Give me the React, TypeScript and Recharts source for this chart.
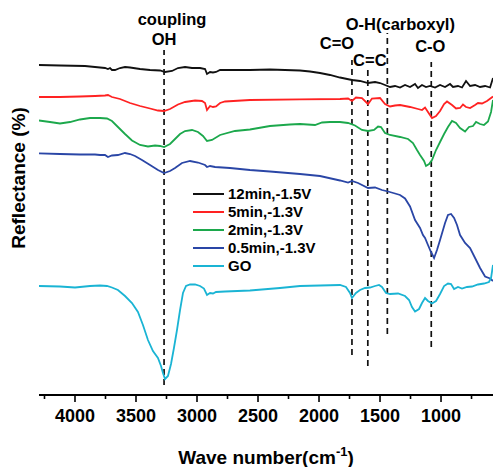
import React from 'react';
import { LineChart, Line, XAxis, YAxis, ReferenceLine, Legend } from 'recharts';

// ---------- data ----------
const waveTicks = [4250, 4000, 3750, 3500, 3250, 3000, 2750, 2500, 2250, 2000, 1750, 1500, 1250, 1000, 750];
const majorTicks = [4000, 3500, 3000, 2500, 2000, 1500, 1000];

const seriesNames = ['12min,-1.5V', '5min,-1.3V', '2min,-1.3V', '0.5min,-1.3V', 'GO'];
const seriesColors = ['#111111', '#ff2222', '#1ca84c', '#2a46a6', '#1ab4d4'];

// [wave number (cm-1), reflectance (a.u., offset)]
const black12min: [number, number][] = [
  [4295, 330], [4123, 329.5], [3918, 329], [3836, 328], [3795, 327.5], [3754, 327], [3730, 326], [3713, 327],
  [3697, 325], [3672, 325], [3631, 327], [3590, 328], [3549, 327.5], [3467, 326], [3385, 325], [3303, 324.5],
  [3262, 323], [3205, 324], [3156, 327], [3098, 328], [3041, 327], [2975, 327], [2934, 326], [2918, 321],
  [2893, 323], [2869, 322.5], [2844, 323], [2811, 325], [2566, 325], [2402, 325.5], [2156, 324.5], [2074, 323.5],
  [1992, 322], [1910, 320], [1828, 317.5], [1730, 315], [1664, 314], [1598, 312], [1541, 313], [1500, 312],
  [1459, 310], [1418, 308], [1377, 309], [1336, 307.5], [1295, 310], [1254, 308], [1213, 311], [1189, 307],
  [1156, 310], [1123, 308], [1090, 309], [1049, 307.5], [1008, 310], [967, 308], [926, 311], [902, 308],
  [861, 309], [828, 307.5], [795, 314], [762, 309], [721, 310], [680, 308], [639, 309], [598, 307.5], [574, 317],
];

const red5min: [number, number][] = [
  [4295, 298], [4123, 298], [3959, 298.5], [3836, 299], [3754, 299.5], [3730, 300], [3697, 298], [3631, 296],
  [3549, 292], [3467, 289], [3385, 286.5], [3320, 284.5], [3270, 284], [3221, 286], [3156, 290.5], [3098, 293],
  [3016, 294.5], [2959, 294], [2934, 292], [2918, 285], [2893, 289], [2869, 288], [2844, 288.5], [2811, 292],
  [2770, 293.5], [2566, 295], [2156, 295.7], [1828, 296], [1762, 296.5], [1730, 294], [1697, 297.5], [1648, 297],
  [1598, 291], [1566, 296.5], [1500, 297], [1459, 291], [1418, 288.5], [1377, 289.5], [1336, 290], [1254, 288],
  [1189, 286], [1156, 285], [1131, 287.5], [1107, 283], [1074, 277], [1041, 279], [1008, 284], [975, 291],
  [951, 293.5], [910, 290], [877, 286.5], [844, 287], [820, 290.5], [795, 288], [762, 287], [721, 290],
  [697, 292], [664, 291.5], [623, 294], [574, 298.5],
];

const green2min: [number, number][] = [
  [4295, 274.5], [4205, 273], [4123, 271.5], [4041, 273], [3959, 275.5], [3877, 277], [3795, 277], [3738, 276.5],
  [3697, 274], [3648, 268], [3590, 261], [3533, 254.5], [3467, 250], [3402, 248.5], [3344, 249.5], [3303, 249],
  [3270, 248], [3221, 251], [3180, 256], [3139, 261], [3098, 264], [3041, 265], [2992, 263], [2951, 259],
  [2918, 254], [2877, 255], [2811, 260], [2689, 264], [2566, 265.5], [2402, 269], [2238, 270.5], [2156, 271],
  [2033, 270], [1975, 272.5], [1910, 273], [1828, 273], [1762, 272], [1705, 269.5], [1648, 265], [1598, 264],
  [1549, 265], [1516, 268.5], [1492, 268], [1459, 262], [1418, 260], [1336, 258], [1270, 256], [1230, 252],
  [1197, 245], [1172, 240], [1139, 234], [1123, 229], [1098, 231], [1074, 235], [1041, 245], [1008, 253],
  [975, 261], [943, 268], [910, 274], [877, 272], [844, 267], [803, 263.5], [771, 268], [738, 269],
  [713, 273], [680, 271], [648, 270], [615, 273.5], [590, 283], [574, 295],
];

const blue05min: [number, number][] = [
  [4295, 241.7], [4123, 241], [3959, 240.5], [3836, 240.5], [3795, 240], [3754, 240], [3730, 238], [3697, 239.5],
  [3648, 240], [3590, 242], [3549, 241], [3508, 239], [3451, 235], [3385, 230], [3320, 225], [3270, 222],
  [3221, 224], [3180, 227], [3123, 232], [3057, 234], [2992, 232.5], [2934, 230], [2918, 228], [2893, 229],
  [2852, 228], [2730, 227], [2566, 225], [2402, 223.5], [2156, 221], [1992, 219], [1828, 214.5], [1762, 212.5],
  [1730, 214], [1680, 212], [1598, 207], [1541, 207.5], [1484, 205], [1434, 203.5], [1377, 201.5], [1336, 200],
  [1295, 196.5], [1254, 188.5], [1213, 175], [1172, 167], [1148, 160], [1131, 157], [1107, 150], [1082, 143],
  [1057, 137], [1033, 145], [1008, 155], [967, 172], [943, 180], [918, 181], [893, 177], [869, 170],
  [844, 160], [803, 152], [762, 147], [721, 137], [680, 127], [639, 118.5], [598, 116.5], [574, 114],
];

const goRef: [number, number][] = [
  [4295, 109], [4123, 108.5], [4000, 107.5], [3877, 109], [3795, 109.5], [3738, 109], [3697, 107.5], [3648, 105],
  [3590, 99], [3533, 92], [3484, 83], [3443, 70], [3402, 55], [3361, 44], [3320, 37], [3295, 29],
  [3279, 22], [3262, 16], [3238, 19], [3213, 31], [3189, 47], [3164, 65], [3139, 85], [3115, 102],
  [3090, 109], [3057, 110.5], [3016, 110.5], [2975, 109], [2943, 106.5], [2918, 100], [2893, 102], [2869, 101.5],
  [2844, 103], [2770, 103.5], [2566, 104.5], [2320, 107], [2156, 109], [1828, 110], [1779, 108], [1746, 102],
  [1730, 97], [1697, 102], [1664, 105], [1623, 107], [1582, 107.5], [1541, 109], [1508, 110], [1484, 108],
  [1451, 102], [1418, 101], [1352, 101.5], [1295, 99], [1262, 95], [1238, 88], [1213, 83.5], [1180, 86],
  [1156, 92], [1131, 97], [1107, 94], [1074, 91.5], [1041, 94], [1008, 101], [975, 109], [943, 111.5],
  [918, 111], [893, 106], [861, 108], [828, 106.5], [787, 108], [746, 108.5], [697, 110.5], [648, 111.5],
  [607, 113], [590, 117], [574, 130],
];

const seriesPoints = [black12min, red5min, green2min, blue05min, goRef];

// assignment bands (dashed markers)
const bandWaves = [3270, 1730, 1600, 1440, 1080];
const bandTop = [345, 335, 328, 362, 333];
const bandBottom = [10, 40, 29, 61, 48];
const bandLabels = [['coupling', 'OH'], ['C=O'], ['C=C'], ['O-H(carboxyl)'], ['C-O']];

// ---------- styles ----------
const FONT = '"Liberation Sans", Arial, Helvetica, sans-serif';
const bandLabelOffsets: number[][][] = [
  [[8, -25], [0, -5]],
  [[-15, -11]],
  [[2, -1]],
  [[13, -3.5]],
  [[-1, -10.5]],
];

const WaveTick = (props: any) => {
  const { x, y, payload } = props;
  const v = payload.value;
  const major = majorTicks.includes(v);
  return (
    <g>
      <line x1={x} y1={y} x2={x} y2={y + (major ? 7 : 4)} stroke="#000" strokeWidth={1.6} />
      {major && (
        <text x={x} y={y + 27} textAnchor="middle" fontSize={18} fontWeight="bold" fill="#000" fontFamily={FONT}>
          {v}
        </text>
      )}
    </g>
  );
};

const makeBandLabel = (i: number) => (props: any) => {
  const vb = props.viewBox || {};
  const x = vb.x ?? 0;
  const top = vb.y ?? 0;
  return (
    <g>
      {bandLabels[i].map((t, k) => (
        <text
          key={k}
          x={x + bandLabelOffsets[i][k][0]}
          y={top + bandLabelOffsets[i][k][1]}
          textAnchor="middle"
          fontSize={16.5}
          fontWeight="bold"
          fill="#000"
          fontFamily={FONT}
        >
          {t}
        </text>
      ))}
    </g>
  );
};

const YTitle = (props: any) => {
  const vb = props.viewBox || { x: 0, y: 0 };
  const x = vb.x + 25;
  const y = vb.y + 168;
  return (
    <text x={x} y={y} transform={`rotate(-90, ${x}, ${y})`} textAnchor="middle" fontSize={19} fontWeight="bold" fill="#000" fontFamily={FONT}>
      Reflectance (%)
    </text>
  );
};

const XTitle = (props: any) => {
  const vb = props.viewBox || { x: 0, y: 0, width: 0 };
  const x = vb.x + vb.width / 2;
  const y = vb.y + 69;
  return (
    <text x={x} y={y} textAnchor="middle" fontSize={19} fontWeight="bold" fill="#000" fontFamily={FONT}>
      Wave number(cm
      <tspan fontSize={13} dy={-8}>-1</tspan>
      <tspan dy={8}>)</tspan>
    </text>
  );
};

const LegendBox = () => (
  <div style={{ fontFamily: FONT, fontWeight: 'bold', fontSize: 15, color: '#000' }}>
    {seriesNames.map((n, i) => (
      <div key={n} style={{ height: 18, display: 'flex', alignItems: 'center' }}>
        <span style={{ display: 'inline-block', width: 31, height: 2, background: seriesColors[i], marginRight: 4 }} />
        <span style={{ lineHeight: '18px' }}>{n}</span>
      </div>
    ))}
  </div>
);

export default function App() {
  return (
    <div style={{ position: 'absolute', left: 0, top: 0, width: 493, height: 467, background: '#fff' }}>
      <LineChart width={493} height={467} margin={{ top: 10, right: 0, bottom: 32, left: 0 }}>
        <XAxis
          dataKey="w"
          type="number"
          reversed
          domain={[574, 4295]}
          allowDataOverflow
          ticks={waveTicks}
          interval={0}
          tick={<WaveTick />}
          tickLine={false}
          tickSize={0}
          tickMargin={0}
          height={40}
          axisLine={{ stroke: '#000', strokeWidth: 2 }}
          label={<XTitle />}
        />
        <YAxis
          type="number"
          domain={[0, 385]}
          allowDataOverflow
          width={39}
          axisLine={false}
          tickLine={false}
          tick={false}
          label={<YTitle />}
        />
        <Legend
          layout="vertical"
          align="center"
          verticalAlign="middle"
          wrapperStyle={{ left: 193, top: 185, width: 140 }}
          content={<LegendBox />}
        />
        {bandWaves.map((w, i) => (
          <ReferenceLine
            key={w}
            segment={[{ x: w, y: bandBottom[i] }, { x: w, y: bandTop[i] }]}
            stroke="#111"
            strokeWidth={1.7}
            strokeDasharray="6 4"
            label={makeBandLabel(i)}
          />
        ))}
        {seriesPoints.map((pts, i) => (
          <Line
            key={seriesNames[i]}
            name={seriesNames[i]}
            data={pts.map(([w, r]) => ({ w, r }))}
            dataKey="r"
            type="linear"
            dot={false}
            stroke={seriesColors[i]}
            strokeWidth={1.8}
            isAnimationActive={false}
          />
        ))}
      </LineChart>
    </div>
  );
}
